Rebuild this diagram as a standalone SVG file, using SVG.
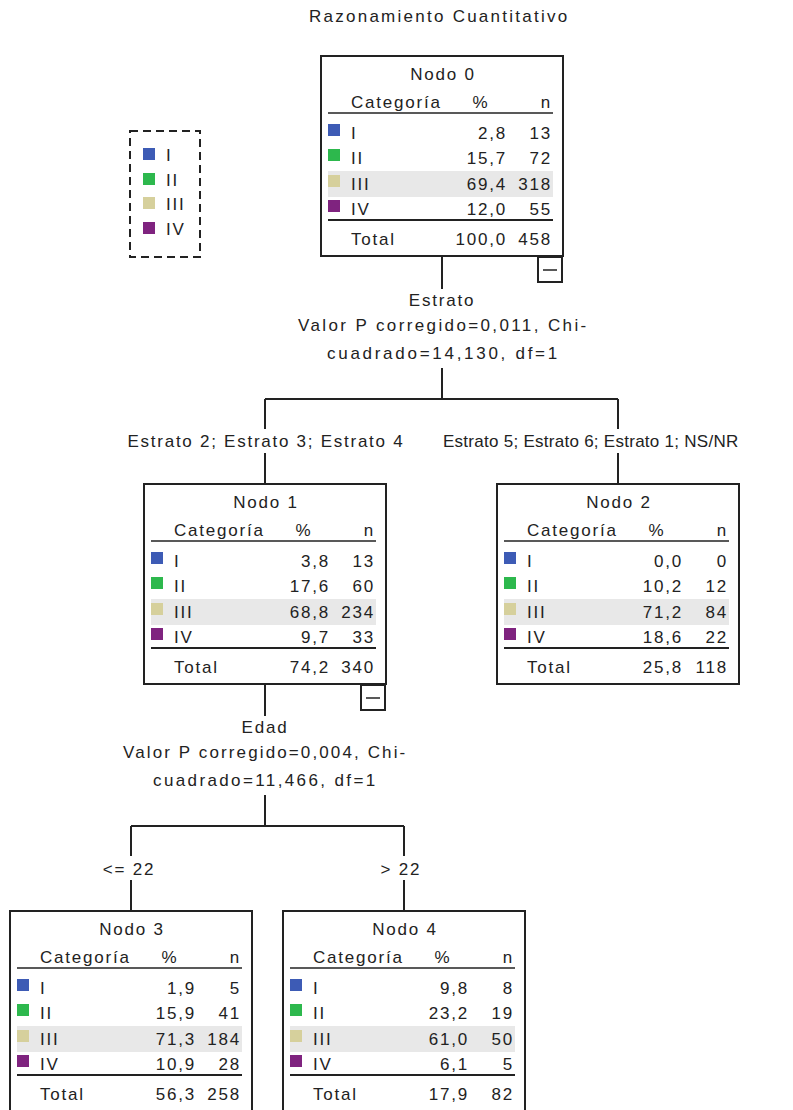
<svg xmlns="http://www.w3.org/2000/svg" width="793" height="1110" viewBox="0 0 793 1110">
<defs>
<style>
text{font-family:"Liberation Sans",Arial,sans-serif;font-size:17px;letter-spacing:1.8px;fill:#222}
.m{text-anchor:middle}
.e{text-anchor:end}
.box{fill:#fff;stroke:#222;stroke-width:2}
.ln{stroke:#222;stroke-width:1.5;fill:none}
.ln2{stroke:#222;stroke-width:2.2;fill:none}
.band{fill:#e8e8e8}
.c1{fill:#3d5bb5}
.c2{fill:#2db84d}
.c3{fill:#d6d09c}
.c4{fill:#7f237f}
.conn{stroke:#222;stroke-width:2;fill:none}
.mb{fill:#fff;stroke:#222;stroke-width:2}
</style>
</defs>
<rect width="793" height="1110" fill="#fff"/>
<text id="title" class="m" x="439" y="22" textLength="260" lengthAdjust="spacing">Razonamiento Cuantitativo</text>

<g id="legend">
<rect x="130" y="131" width="70" height="126" fill="none" stroke="#222" stroke-width="2" stroke-dasharray="8 5"/>
<rect class="c1" x="143" y="148" width="12" height="12"/><text x="166" y="161">I</text>
<rect class="c2" x="143" y="173" width="12" height="12"/><text x="166" y="186">II</text>
<rect class="c3" x="143" y="197" width="12" height="12"/><text x="166" y="210">III</text>
<rect class="c4" x="143" y="222" width="12" height="12"/><text x="166" y="235">IV</text>
</g>

<g id="connectors">
<path class="conn" d="M442 257V289M442 368V399M265 399H618M265 399V429M618 399V429M265 453V484M618 453V484"/>
<path class="conn" d="M265 684V716M265 795V826M131 826H404M131 826V856M404 826V856M131 880V911M404 880V911"/>
<text class="m" x="442" y="306">Estrato</text>
<text class="m" x="443" y="331" textLength="290" lengthAdjust="spacing">Valor P corregido=0,011, Chi-</text>
<text class="m" x="443" y="359" textLength="232" lengthAdjust="spacing">cuadrado=14,130, df=1</text>
<text class="m" x="266" y="447" textLength="277" lengthAdjust="spacing">Estrato 2; Estrato 3; Estrato 4</text>
<text x="443" y="447" textLength="297" lengthAdjust="spacing">Estrato 5; Estrato 6; Estrato 1; NS/NR</text>
<text class="m" x="265" y="733">Edad</text>
<text class="m" x="265" y="758" textLength="284" lengthAdjust="spacing">Valor P corregido=0,004, Chi-</text>
<text class="m" x="265" y="786" textLength="224" lengthAdjust="spacing">cuadrado=11,466, df=1</text>
<text class="m" x="129" y="875">&lt;= 22</text>
<text class="m" x="401" y="875">&gt; 22</text>
</g>

<g id="node0" transform="translate(321,56)">
<rect class="box" x="0" y="0" width="242" height="200"/>
<text class="m" x="122" y="24">Nodo 0</text>
<text x="30" y="52">Categoría</text><text class="m" x="160" y="52">%</text><text class="e" x="231" y="52">n</text>
<line class="ln" x1="7" y1="57" x2="232" y2="57"/>
<rect class="band" x="7" y="115" width="225" height="26"/>
<rect class="c1" x="7" y="68" width="12" height="12"/><text x="30" y="83">I</text><text class="e" x="186" y="83">2,8</text><text class="e" x="231" y="83">13</text>
<rect class="c2" x="7" y="93" width="12" height="12"/><text x="30" y="108">II</text><text class="e" x="186" y="108">15,7</text><text class="e" x="231" y="108">72</text>
<rect class="c3" x="7" y="119" width="12" height="12"/><text x="30" y="134">III</text><text class="e" x="186" y="134">69,4</text><text class="e" x="231" y="134">318</text>
<rect class="c4" x="7" y="144" width="12" height="12"/><text x="30" y="159">IV</text><text class="e" x="186" y="159">12,0</text><text class="e" x="231" y="159">55</text>
<line class="ln2" x1="7" y1="164" x2="232" y2="164"/>
<text x="30" y="189">Total</text><text class="e" x="186" y="189">100,0</text><text class="e" x="231" y="189">458</text>
<rect class="mb" x="217" y="201" width="24" height="25"/>
<line class="ln" x1="222" y1="214" x2="236" y2="214"/>
</g>

<g id="node1" transform="translate(144,484)">
<rect class="box" x="0" y="0" width="242" height="200"/>
<text class="m" x="122" y="24">Nodo 1</text>
<text x="30" y="52">Categoría</text><text class="m" x="160" y="52">%</text><text class="e" x="231" y="52">n</text>
<line class="ln" x1="7" y1="57" x2="232" y2="57"/>
<rect class="band" x="7" y="115" width="225" height="26"/>
<rect class="c1" x="7" y="68" width="12" height="12"/><text x="30" y="83">I</text><text class="e" x="186" y="83">3,8</text><text class="e" x="231" y="83">13</text>
<rect class="c2" x="7" y="93" width="12" height="12"/><text x="30" y="108">II</text><text class="e" x="186" y="108">17,6</text><text class="e" x="231" y="108">60</text>
<rect class="c3" x="7" y="119" width="12" height="12"/><text x="30" y="134">III</text><text class="e" x="186" y="134">68,8</text><text class="e" x="231" y="134">234</text>
<rect class="c4" x="7" y="144" width="12" height="12"/><text x="30" y="159">IV</text><text class="e" x="186" y="159">9,7</text><text class="e" x="231" y="159">33</text>
<line class="ln2" x1="7" y1="164" x2="232" y2="164"/>
<text x="30" y="189">Total</text><text class="e" x="186" y="189">74,2</text><text class="e" x="231" y="189">340</text>
<rect class="mb" x="217" y="201" width="24" height="25"/>
<line class="ln" x1="222" y1="214" x2="236" y2="214"/>
</g>

<g id="node2" transform="translate(497,484)">
<rect class="box" x="0" y="0" width="242" height="200"/>
<text class="m" x="122" y="24">Nodo 2</text>
<text x="30" y="52">Categoría</text><text class="m" x="160" y="52">%</text><text class="e" x="231" y="52">n</text>
<line class="ln" x1="7" y1="57" x2="232" y2="57"/>
<rect class="band" x="7" y="115" width="225" height="26"/>
<rect class="c1" x="7" y="68" width="12" height="12"/><text x="30" y="83">I</text><text class="e" x="186" y="83">0,0</text><text class="e" x="231" y="83">0</text>
<rect class="c2" x="7" y="93" width="12" height="12"/><text x="30" y="108">II</text><text class="e" x="186" y="108">10,2</text><text class="e" x="231" y="108">12</text>
<rect class="c3" x="7" y="119" width="12" height="12"/><text x="30" y="134">III</text><text class="e" x="186" y="134">71,2</text><text class="e" x="231" y="134">84</text>
<rect class="c4" x="7" y="144" width="12" height="12"/><text x="30" y="159">IV</text><text class="e" x="186" y="159">18,6</text><text class="e" x="231" y="159">22</text>
<line class="ln2" x1="7" y1="164" x2="232" y2="164"/>
<text x="30" y="189">Total</text><text class="e" x="186" y="189">25,8</text><text class="e" x="231" y="189">118</text>
</g>

<g id="node3" transform="translate(10,911)">
<rect class="box" x="0" y="0" width="242" height="200"/>
<text class="m" x="122" y="24">Nodo 3</text>
<text x="30" y="52">Categoría</text><text class="m" x="160" y="52">%</text><text class="e" x="231" y="52">n</text>
<line class="ln" x1="7" y1="57" x2="232" y2="57"/>
<rect class="band" x="7" y="115" width="225" height="26"/>
<rect class="c1" x="7" y="68" width="12" height="12"/><text x="30" y="83">I</text><text class="e" x="186" y="83">1,9</text><text class="e" x="231" y="83">5</text>
<rect class="c2" x="7" y="93" width="12" height="12"/><text x="30" y="108">II</text><text class="e" x="186" y="108">15,9</text><text class="e" x="231" y="108">41</text>
<rect class="c3" x="7" y="119" width="12" height="12"/><text x="30" y="134">III</text><text class="e" x="186" y="134">71,3</text><text class="e" x="231" y="134">184</text>
<rect class="c4" x="7" y="144" width="12" height="12"/><text x="30" y="159">IV</text><text class="e" x="186" y="159">10,9</text><text class="e" x="231" y="159">28</text>
<line class="ln2" x1="7" y1="164" x2="232" y2="164"/>
<text x="30" y="189">Total</text><text class="e" x="186" y="189">56,3</text><text class="e" x="231" y="189">258</text>
</g>

<g id="node4" transform="translate(283,911)">
<rect class="box" x="0" y="0" width="242" height="200"/>
<text class="m" x="122" y="24">Nodo 4</text>
<text x="30" y="52">Categoría</text><text class="m" x="160" y="52">%</text><text class="e" x="231" y="52">n</text>
<line class="ln" x1="7" y1="57" x2="232" y2="57"/>
<rect class="band" x="7" y="115" width="225" height="26"/>
<rect class="c1" x="7" y="68" width="12" height="12"/><text x="30" y="83">I</text><text class="e" x="186" y="83">9,8</text><text class="e" x="231" y="83">8</text>
<rect class="c2" x="7" y="93" width="12" height="12"/><text x="30" y="108">II</text><text class="e" x="186" y="108">23,2</text><text class="e" x="231" y="108">19</text>
<rect class="c3" x="7" y="119" width="12" height="12"/><text x="30" y="134">III</text><text class="e" x="186" y="134">61,0</text><text class="e" x="231" y="134">50</text>
<rect class="c4" x="7" y="144" width="12" height="12"/><text x="30" y="159">IV</text><text class="e" x="186" y="159">6,1</text><text class="e" x="231" y="159">5</text>
<line class="ln2" x1="7" y1="164" x2="232" y2="164"/>
<text x="30" y="189">Total</text><text class="e" x="186" y="189">17,9</text><text class="e" x="231" y="189">82</text>
</g>
</svg>
